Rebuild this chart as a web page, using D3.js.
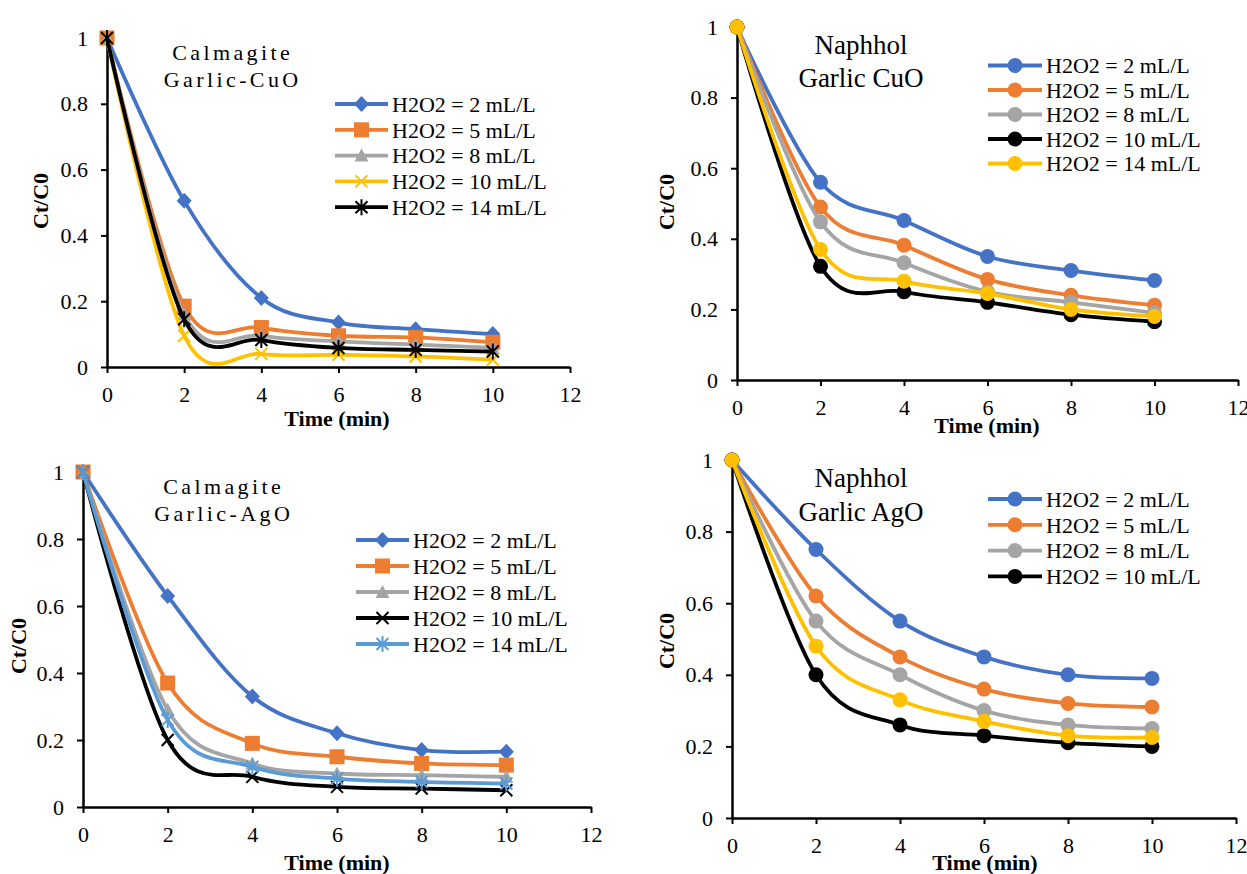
<!DOCTYPE html>
<html>
<head>
<meta charset="utf-8">
<script src="https://cdn.jsdelivr.net/npm/d3@7"></script>
<style>
  body { margin: 0; background: #fff; }
  svg text { font-family: "Liberation Serif", "Times New Roman", serif; }
</style>
</head>
<body>
<div id="chart"></div>
<script>
// Data
const times = [0, 2, 4, 6, 8, 10]
const xTicks = [0, 2, 4, 6, 8, 10, 12]
const yTicks = [0, 0.2, 0.4, 0.6, 0.8, 1]

// Calmagite, Garlic-CuO
const calCuO2 = [1, 0.505, 0.21, 0.135, 0.115, 0.10]
const calCuO5 = [1, 0.185, 0.12, 0.095, 0.09, 0.075]
const calCuO8 = [1, 0.16, 0.095, 0.078, 0.068, 0.058]
const calCuO10 = [1, 0.095, 0.04, 0.037, 0.032, 0.022]
const calCuO14 = [1, 0.145, 0.082, 0.058, 0.052, 0.047]

// Naphhol, Garlic CuO
const napCuO2 = [1, 0.56, 0.452, 0.35, 0.31, 0.282]
const napCuO5 = [1, 0.49, 0.382, 0.285, 0.24, 0.212]
const napCuO8 = [1, 0.448, 0.332, 0.25, 0.22, 0.19]
const napCuO10 = [1, 0.322, 0.25, 0.22, 0.185, 0.165]
const napCuO14 = [1, 0.37, 0.28, 0.245, 0.20, 0.18]

// Calmagite, Garlic-AgO
const calAgO2 = [1, 0.63, 0.33, 0.22, 0.17, 0.165]
const calAgO5 = [1, 0.37, 0.19, 0.15, 0.13, 0.125]
const calAgO8 = [1, 0.29, 0.13, 0.10, 0.095, 0.09]
const calAgO10 = [1, 0.20, 0.09, 0.06, 0.055, 0.05]
const calAgO14 = [1, 0.26, 0.12, 0.085, 0.075, 0.07]

// Naphhol, Garlic AgO
const napAgO2 = [1, 0.75, 0.55, 0.45, 0.40, 0.39]
const napAgO5 = [1, 0.62, 0.45, 0.36, 0.32, 0.31]
const napAgO8 = [1, 0.55, 0.40, 0.30, 0.26, 0.25]
const napAgO10 = [1, 0.40, 0.26, 0.23, 0.21, 0.20]
const napAgO14 = [1, 0.48, 0.33, 0.27, 0.23, 0.225]

const labels = {
  2: 'H2O2 = 2 mL/L', 5: 'H2O2 = 5 mL/L', 8: 'H2O2 = 8 mL/L',
  10: 'H2O2 = 10 mL/L', 14: 'H2O2 = 14 mL/L'
}

const blue = '#4472C4', orange = '#ED7D31', gray = '#A5A5A5',
  yellow = '#FFC000', black = '#000000', lightBlue = '#5B9BD5'

const serif = '"Liberation Serif", "Times New Roman", serif'

// Panels (frames in pixels)
const panels = [
  {
    frame: { x0: 107, x1: 570, yTop: 38, yBot: 367 },
    title: ['Calmagite', 'Garlic-CuO'], titleX: 231, titleY: [60, 87], titleSize: 22, spacing: 3.4,
    legend: { x0: 335, x1: 388, y: 104, step: 25.8 },
    xTitle: { x: 337, y: 418 }, yTitle: { x: 40, y: 201 },
    series: [
      { key: 2, values: calCuO2, color: blue, marker: 'diamond', legend: true },
      { key: 5, values: calCuO5, color: orange, marker: 'square', legend: true },
      { key: 8, values: calCuO8, color: gray, marker: 'triangle', legend: true },
      { key: 10, values: calCuO10, color: yellow, marker: 'x', legend: true },
      { key: 14, values: calCuO14, color: black, marker: 'star', legend: true }
    ]
  },
  {
    frame: { x0: 737, x1: 1238, yTop: 27, yBot: 380 },
    title: ['Naphhol', 'Garlic CuO'], titleX: 861, titleY: [54, 87], titleSize: 27, spacing: 0,
    legend: { x0: 988, x1: 1042, y: 65.5, step: 24.5 },
    xTitle: { x: 987, y: 425 }, yTitle: { x: 666, y: 202 },
    series: [
      { key: 2, values: napCuO2, color: blue, marker: 'circle', legend: true },
      { key: 5, values: napCuO5, color: orange, marker: 'circle', legend: true },
      { key: 8, values: napCuO8, color: gray, marker: 'circle', legend: true },
      { key: 10, values: napCuO10, color: black, marker: 'circle', legend: true },
      { key: 14, values: napCuO14, color: yellow, marker: 'circle', legend: true }
    ]
  },
  {
    frame: { x0: 83, x1: 591, yTop: 472, yBot: 807 },
    title: ['Calmagite', 'Garlic-AgO'], titleX: 222, titleY: [494, 521], titleSize: 22, spacing: 3.4,
    legend: { x0: 356, x1: 409, y: 540, step: 26 },
    xTitle: { x: 337, y: 862 }, yTitle: { x: 18, y: 646 },
    series: [
      { key: 2, values: calAgO2, color: blue, marker: 'diamond', legend: true },
      { key: 5, values: calAgO5, color: orange, marker: 'square', legend: true },
      { key: 8, values: calAgO8, color: gray, marker: 'triangle', legend: true },
      { key: 10, values: calAgO10, color: black, marker: 'x', legend: true },
      { key: 14, values: calAgO14, color: lightBlue, marker: 'star', legend: true }
    ]
  },
  {
    frame: { x0: 732, x1: 1236, yTop: 460, yBot: 818 },
    title: ['Naphhol', 'Garlic AgO'], titleX: 861, titleY: [487, 521], titleSize: 27, spacing: 0,
    legend: { x0: 988, x1: 1042, y: 499, step: 25.8 },
    xTitle: { x: 985, y: 862 }, yTitle: { x: 666, y: 641 },
    series: [
      { key: 2, values: napAgO2, color: blue, marker: 'circle', legend: true },
      { key: 5, values: napAgO5, color: orange, marker: 'circle', legend: true },
      { key: 8, values: napAgO8, color: gray, marker: 'circle', legend: true },
      { key: 10, values: napAgO10, color: black, marker: 'circle', legend: true },
      { key: 14, values: napAgO14, color: yellow, marker: 'circle', legend: false }
    ]
  }
]

const svg = d3.select('#chart')
  .append('svg')
  .attr('width', 1247)
  .attr('height', 874)
  .attr('font-family', serif)

// draws one marker centred on (cx, cy)
function drawMarker(g, type, cx, cy, color) {
  if (type === 'circle') {
    g.append('circle').attr('cx', cx).attr('cy', cy).attr('r', 7.5).attr('fill', color)
  } else if (type === 'diamond') {
    g.append('path').attr('d', `M${cx},${cy - 8}L${cx + 7.5},${cy}L${cx},${cy + 8}L${cx - 7.5},${cy}Z`).attr('fill', color)
  } else if (type === 'square') {
    g.append('rect').attr('x', cx - 7.5).attr('y', cy - 7.5).attr('width', 15).attr('height', 15).attr('fill', color)
  } else if (type === 'triangle') {
    g.append('path').attr('d', `M${cx},${cy - 7}L${cx + 7},${cy + 6}L${cx - 7},${cy + 6}Z`).attr('fill', color)
  } else if (type === 'x') {
    g.append('path').attr('d', `M${cx - 6},${cy - 6}L${cx + 6},${cy + 6}M${cx + 6},${cy - 6}L${cx - 6},${cy + 6}`)
      .attr('stroke', color).attr('stroke-width', 2).attr('fill', 'none')
  } else if (type === 'star') {
    g.append('path').attr('d', `M${cx - 6},${cy - 6}L${cx + 6},${cy + 6}M${cx + 6},${cy - 6}L${cx - 6},${cy + 6}M${cx},${cy - 8}L${cx},${cy + 8}`)
      .attr('stroke', color).attr('stroke-width', 2).attr('fill', 'none')
  }
}

panels.forEach(p => {
  const f = p.frame
  const g = svg.append('g')

  const xScale = d3.scaleLinear().domain([0, 12]).range([f.x0, f.x1])
  const yScale = d3.scaleLinear().domain([0, 1]).range([f.yBot, f.yTop])

  // Axes
  const xAxis = d3.axisBottom(xScale).tickValues(xTicks).tickSize(6).tickSizeOuter(0).tickPadding(13)
  const yAxis = d3.axisLeft(yScale).tickValues(yTicks).tickSize(6).tickSizeOuter(0).tickPadding(13)
    .tickFormat(d => String(+d.toFixed(1)))

  const xg = g.append('g').attr('transform', `translate(0, ${f.yBot})`).call(xAxis)
  const yg = g.append('g').attr('transform', `translate(${f.x0}, 0)`).call(yAxis)

  ;[xg, yg].forEach(a => {
    a.attr('font-family', serif).attr('font-size', 22)
    a.select('.domain').attr('stroke-width', 2.5)
    a.selectAll('.tick line').attr('stroke-width', 2)
    a.selectAll('.tick text').attr('fill', '#000')
  })

  // Axis titles
  g.append('text')
    .attr('x', p.xTitle.x).attr('y', p.xTitle.y).attr('dy', '0.35em')
    .attr('text-anchor', 'middle')
    .style('font-size', '22px').style('font-weight', 'bold')
    .text('Time (min)')

  g.append('text')
    .attr('transform', `translate(${p.yTitle.x}, ${p.yTitle.y}) rotate(-90)`)
    .attr('dy', '0.35em')
    .attr('text-anchor', 'middle')
    .style('font-size', '22px').style('font-weight', 'bold')
    .text('Ct/C0')

  // Panel title
  p.title.forEach((t, i) => {
    g.append('text')
      .attr('x', p.titleX + p.spacing / 2).attr('y', p.titleY[i])
      .attr('text-anchor', 'middle')
      .style('font-size', p.titleSize + 'px')
      .style('letter-spacing', p.spacing + 'px')
      .text(t)
  })

  // Series
  const line = d3.line()
    .x((d, i) => xScale(times[i]))
    .y(d => yScale(d))
    .curve(d3.curveCardinal.tension(0))

  p.series.forEach(s => {
    g.append('path')
      .attr('d', line(s.values))
      .attr('fill', 'none')
      .attr('stroke', s.color)
      .attr('stroke-width', 3.8)
    s.values.forEach((v, i) => drawMarker(g, s.marker, xScale(times[i]), yScale(v), s.color))
  })

  // Legend
  const legendSeries = p.series.filter(s => s.legend)
  legendSeries.forEach((s, i) => {
    const y = p.legend.y + i * p.legend.step
    g.append('line')
      .attr('x1', p.legend.x0).attr('x2', p.legend.x1)
      .attr('y1', y).attr('y2', y)
      .attr('stroke', s.color).attr('stroke-width', 3.8)
    drawMarker(g, s.marker, (p.legend.x0 + p.legend.x1) / 2, y, s.color)
    g.append('text')
      .attr('x', p.legend.x1 + 4).attr('y', y).attr('dy', '0.35em')
      .style('font-size', '22px')
      .text(labels[s.key])
  })
})
</script>
</body>
</html>
